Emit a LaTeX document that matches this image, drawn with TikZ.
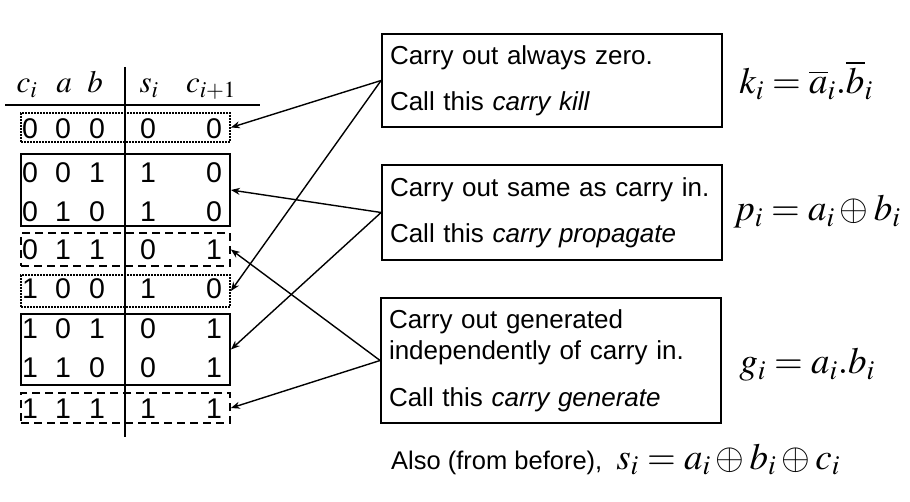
\documentclass[tikz,border=0pt]{standalone}
\usepackage{mathptmx}
\usepackage{fontspec}
\setmainfont{Liberation Sans}
\usetikzlibrary{arrows.meta}

\begin{document}
\begin{tikzpicture}[x=1pt, y=-1pt,
    digit/.style={inner sep=0,
      font=\fontsize{28.5}{28}\selectfont},
    head/.style={inner sep=0, anchor=base,
      font=\fontsize{31}{31}\selectfont},
    rowbox/.style={draw, line width=1.8pt,
      minimum width=209pt, inner sep=0},
    note/.style={draw, line width=1.8pt,
      align=left, text width=324pt, inner xsep=8pt,
      font=\fontsize{26}{31}\selectfont},
    eqn/.style={inner sep=0,
      font=\fontsize{37}{37}\selectfont},
    link/.style={-{Stealth[length=9pt,width=7pt]}, line width=1.4pt}
  ]
  \useasboundingbox (0,0) rectangle (910,502);

  % table head and rules
  \node[head] (hc) at (27,93) {$c_i$};
  \node[head] (ha) at (64,93) {$a$};
  \node[head] (hb) at (95,93) {$b$};
  \node[head] (hs) at (149,93) {$s_i$};
  \node[head] (hco) at (211,93) {$c_{i+1}$};
  \draw[line width=2.2pt] (5,105) -- (260,105);
  \draw[line width=2.2pt] (125,67) -- (125,437);

  % truth table rows
  \foreach \ci/\a/\b/\s/\co/\y [count=\n] in {0/0/0/0/0/128.5, 0/0/1/1/0/173, 0/1/0/1/0/211.5,
      0/1/1/0/1/250, 1/0/0/1/0/289, 1/0/1/0/1/329, 1/1/0/0/1/368, 1/1/1/1/1/409} {
    \node[digit] (r\n-1) at (30,\y) {\ci};
    \node[digit] (r\n-2) at (63,\y) {\a};
    \node[digit] (r\n-3) at (97,\y) {\b};
    \node[digit] (r\n-4) at (148,\y) {\s};
    \node[digit] (r\n-5) at (214,\y) {\co};
  }

  % groups of rows
  \node[rowbox, dash pattern=on 1.6pt off 1.4pt, minimum height=29pt] (k0) at (125.5,127.5) {};
  \node[rowbox, minimum height=72pt] (p0) at (125.5,190) {};
  \node[rowbox, dash pattern=on 8pt off 5pt, minimum height=33pt] (g0) at (125.5,249.5) {};
  \node[rowbox, dash pattern=on 1.6pt off 1.4pt, minimum height=32pt] (k1) at (125.5,291) {};
  \node[rowbox, minimum height=71pt] (p1) at (125.5,349.5) {};
  \node[rowbox, dash pattern=on 8pt off 5pt, minimum height=30pt] (g1) at (125.5,408) {};

  % notes
  \node[note, minimum height=93pt] (kill) at (552,80.5)
    {Carry out always zero.\\[15pt]Call this \textit{carry kill}};
  \node[note, minimum height=95pt] (prop) at (552,212.5)
    {Carry out same as carry in.\\[15pt]Call this \textit{carry propagate}};
  \node[note, minimum height=125pt] (gen) at (551,360.5)
    {Carry out generated\\independently of carry in.\\[16pt]Call this \textit{carry generate}};

  % equations
  \node[eqn] (keq) at (806,80) {$k_i=\overline{a}_i.\overline{b}_i$};
  \node[eqn] (peq) at (817,212) {$p_i=a_i\oplus b_i$};
  \node[eqn] (geq) at (807,365) {$g_i=a_i.b_i$};
  \node[inner sep=0, anchor=base west] (seq) at (391,469)
    {\fontsize{25.5}{30}\selectfont Also (from before),\hspace{14pt}\fontsize{37}{37}\selectfont $s_i=a_i\oplus b_i\oplus c_i$};

  % arrows
  \draw[link] (kill.west) -- (k0.east);
  \draw[link] (kill.west) -- (k1.east);
  \draw[link] (prop.west) -- (p0.east);
  \draw[link] (prop.west) -- (p1.east);
  \draw[link] (gen.west) -- (g0.east);
  \draw[link] (gen.west) -- (g1.east);
\end{tikzpicture}
\end{document}
